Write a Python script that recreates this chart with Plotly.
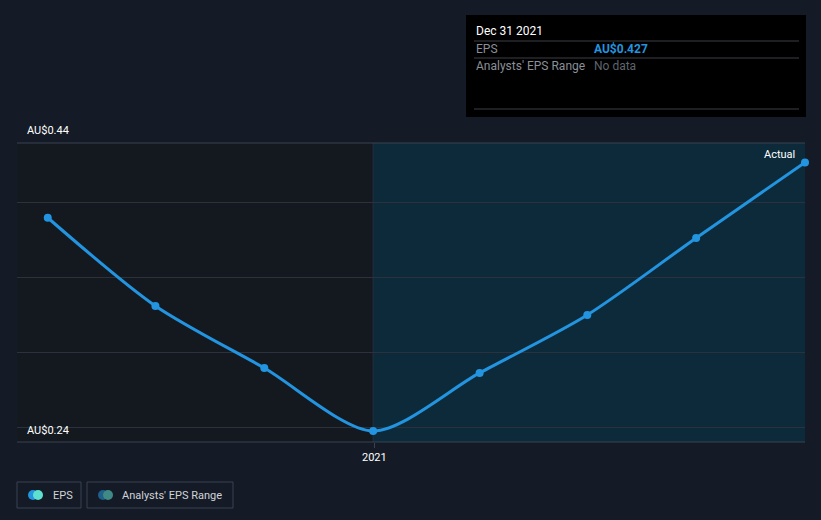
import plotly.graph_objects as go

dates = ["2020-03-31", "2020-06-30", "2020-09-30", "2020-12-31",
         "2021-03-31", "2021-06-30", "2021-09-30", "2021-12-31"]
eps = [0.390, 0.331, 0.2895, 0.2474, 0.2862, 0.325, 0.3765, 0.427]
y_ticks = [0.25, 0.30, 0.35, 0.40]
y_min, y_max = 0.24, 0.44
x_start, x_end = "2020-03-05", "2021-12-31"
forecast_start = "2020-12-31"

BG = "#151b26"
LINE = "#2394df"

fig = go.Figure()

fig.add_trace(go.Scatter(
    x=dates, y=eps, mode="lines+markers",
    line=dict(color=LINE, width=3, shape="spline", smoothing=0.8),
    marker=dict(size=8, color=LINE),
    hoverinfo="skip", showlegend=False, cliponaxis=False,
))

shapes = []
shapes.append(dict(type="rect", xref="x", yref="paper", x0=x_start, x1=forecast_start,
                   y0=0, y1=1, fillcolor="#141920", line_width=0, layer="below"))
shapes.append(dict(type="rect", xref="x", yref="paper", x0=forecast_start, x1=x_end,
                   y0=0, y1=1, fillcolor="#0d2a3a", line_width=0, layer="below"))
shapes.append(dict(type="line", xref="x", yref="paper", x0=forecast_start, x1=forecast_start,
                   y0=0, y1=1, line=dict(color="#233040", width=1), layer="below"))
shapes.append(dict(type="line", xref="paper", yref="paper", x0=0, x1=1, y0=1, y1=1,
                   line=dict(color="#3b4350", width=1)))
shapes.append(dict(type="line", xref="paper", yref="paper", x0=0, x1=1, y0=0, y1=0,
                   line=dict(color="#3b4350", width=1)))

L, R, T, B = 17, 805, 143, 442
W, H = 821, 520
def px(x):
    return (x - L) / (R - L)
def py(y):
    return (B - y) / (B - T)

shapes.append(dict(type="rect", xref="paper", yref="paper", x0=px(466), x1=px(806),
                   y0=py(117), y1=py(15), fillcolor="#000000", line_width=0))
for yy in (41, 58, 109):
    shapes.append(dict(type="line", xref="paper", yref="paper", x0=px(474), x1=px(799),
                       y0=py(yy), y1=py(yy), line=dict(color="#3a3f47", width=1)))

shapes.append(dict(type="rect", xref="paper", yref="paper", x0=px(17), x1=px(81),
                   y0=py(508), y1=py(482), line=dict(color="#3b4350", width=1), fillcolor="rgba(0,0,0,0)"))
shapes.append(dict(type="rect", xref="paper", yref="paper", x0=px(87), x1=px(233),
                   y0=py(508), y1=py(482), line=dict(color="#3b4350", width=1), fillcolor="rgba(0,0,0,0)"))
for cx, col in ((33, "#2394df"), (38, "#5ee0d0"), (103, "#1f5f8a"), (108, "#3f8a86")):
    shapes.append(dict(type="circle", xref="paper", yref="paper",
                       x0=px(cx - 5), x1=px(cx + 5), y0=py(500), y1=py(490),
                       fillcolor=col, line_width=0))

annotations = [
    dict(text="Dec 31 2021", x=px(474), y=py(31), xref="paper", yref="paper",
         xanchor="left", yanchor="middle", showarrow=False,
         font=dict(color="#ffffff", size=12)),
    dict(text="EPS", x=px(474), y=py(49), xref="paper", yref="paper",
         xanchor="left", yanchor="middle", showarrow=False,
         font=dict(color="#8a8f98", size=12)),
    dict(text="<b>AU$0.427</b>", x=px(592), y=py(49), xref="paper", yref="paper",
         xanchor="left", yanchor="middle", showarrow=False,
         font=dict(color="#2394df", size=12)),
    dict(text="Analysts' EPS Range", x=px(474), y=py(66), xref="paper", yref="paper",
         xanchor="left", yanchor="middle", showarrow=False,
         font=dict(color="#8a8f98", size=12)),
    dict(text="No data", x=px(592), y=py(66), xref="paper", yref="paper",
         xanchor="left", yanchor="middle", showarrow=False,
         font=dict(color="#5f646c", size=12)),
    dict(text="AU$0.44", x=px(25), y=py(130), xref="paper", yref="paper",
         xanchor="left", yanchor="middle", showarrow=False,
         font=dict(color="#ffffff", size=11)),
    dict(text="AU$0.24", x=px(25), y=py(430), xref="paper", yref="paper",
         xanchor="left", yanchor="middle", showarrow=False,
         font=dict(color="#ffffff", size=11)),
    dict(text="Actual", x=px(797), y=py(154), xref="paper", yref="paper",
         xanchor="right", yanchor="middle", showarrow=False,
         font=dict(color="#ffffff", size=11)),
    dict(text="EPS", x=px(51), y=py(495), xref="paper", yref="paper",
         xanchor="left", yanchor="middle", showarrow=False,
         font=dict(color="#d0d3d8", size=11)),
    dict(text="Analysts' EPS Range", x=px(120), y=py(495), xref="paper", yref="paper",
         xanchor="left", yanchor="middle", showarrow=False,
         font=dict(color="#d0d3d8", size=11)),
]

fig.update_layout(
    width=W, height=H,
    margin=dict(l=L, r=W - R, t=T, b=H - B),
    paper_bgcolor=BG, plot_bgcolor=BG,
    font=dict(family="Roboto, Arial, sans-serif", color="#ffffff"),
    shapes=shapes, annotations=annotations,
    showlegend=False,
    xaxis=dict(range=[x_start, x_end], showgrid=False, zeroline=False,
               tickvals=["2021-01-01"], ticktext=["2021"],
               ticks="outside", ticklen=5, tickcolor="#3b4350",
               tickfont=dict(color="#ffffff", size=11), showline=False, fixedrange=True),
    yaxis=dict(range=[y_min, y_max], tickvals=y_ticks, showticklabels=False,
               gridcolor="#2b323d", gridwidth=1, zeroline=False, showline=False, fixedrange=True),
)

fig.write_html(
    "out.html",
    config={"displayModeBar": False},
    post_script="document.body.style.margin='0';document.body.style.background='%s';" % BG,
)
